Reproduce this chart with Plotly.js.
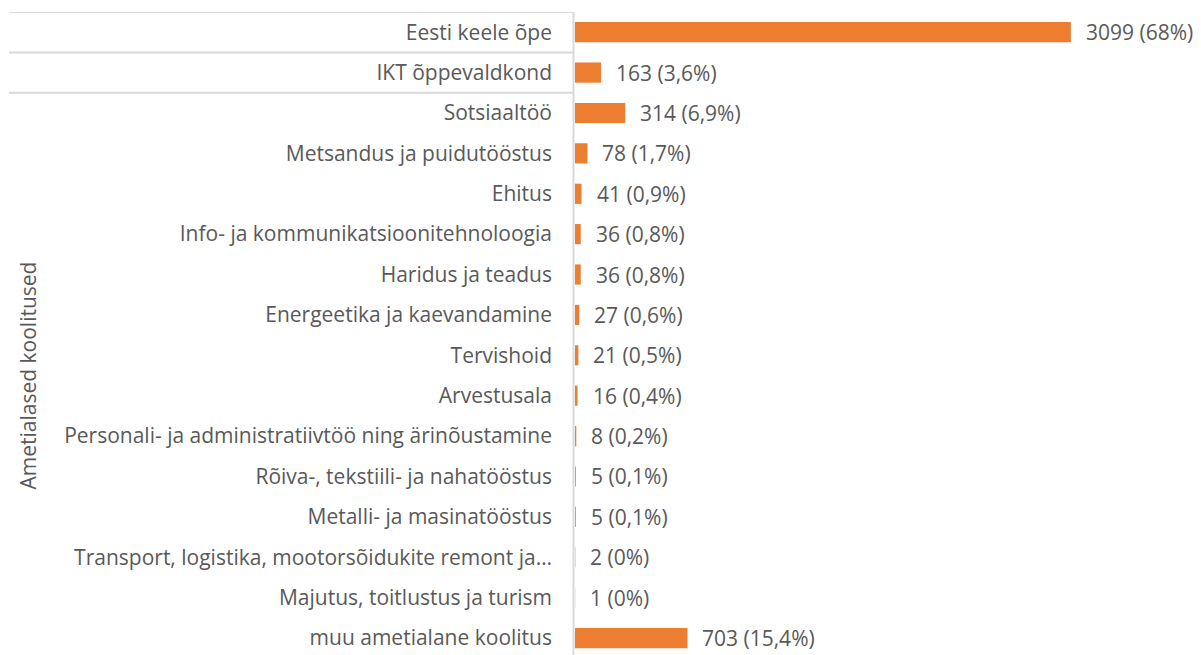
<!DOCTYPE html>
<html>
<head>
<meta charset="utf-8">
<script src="https://cdn.plot.ly/plotly-3.0.1.min.js"></script>
<style>html,body{margin:0;padding:0;background:#fff;}#chart{width:1201px;height:655px;}</style>
</head>
<body>
<div id="chart"></div>
<script>
const categories = [
  "Eesti keele õpe",
  "IKT õppevaldkond",
  "Sotsiaaltöö",
  "Metsandus ja puidutööstus",
  "Ehitus",
  "Info- ja kommunikatsioonitehnoloogia",
  "Haridus ja teadus",
  "Energeetika ja kaevandamine",
  "Tervishoid",
  "Arvestusala",
  "Personali- ja administratiivtöö ning ärinõustamine",
  "Rõiva-, tekstiili- ja nahatööstus",
  "Metalli- ja masinatööstus",
  "Transport, logistika, mootorsõidukite remont ja…",
  "Majutus, toitlustus ja turism",
  "muu ametialane koolitus"
];
const values = [3099, 163, 314, 78, 41, 36, 36, 27, 21, 16, 8, 5, 5, 2, 1, 703];
const percents = ["68%", "3,6%", "6,9%", "1,7%", "0,9%", "0,8%", "0,8%", "0,6%", "0,5%", "0,4%", "0,2%", "0,1%", "0,1%", "0%", "0%", "15,4%"];
const groupLabel = "Ametialased koolitused";

const FONT = "'Open Sans', 'Noto Sans', sans-serif";
const GREY = "#595959";
const FS = 21;

const trace = {
  type: "bar",
  orientation: "h",
  x: values,
  y: categories,
  width: 0.5,
  marker: {color: "#ED7D31", line: {color: "#ED7D31", width: 0}},
  hoverinfo: "none"
};

const annotations = categories.map((c, i) => ({
  x: values[i], y: c, xref: "x", yref: "y",
  text: values[i] + " (" + percents[i] + ")",
  showarrow: false, xanchor: "left", yanchor: "middle", xshift: 13,
  font: {family: FONT, size: FS, color: GREY}
}));
annotations.push({
  x: -0.924, xref: "paper", y: 8.5, yref: "y",
  text: groupLabel, textangle: -90, showarrow: false,
  xanchor: "center", yanchor: "middle",
  font: {family: FONT, size: FS, color: GREY}
});

const lineStyle = {color: "#d9d9d9", width: 2};
const px = p => (p - 575) / 592;
const shapes = [-0.5, 0.5, 1.5].map(yy => ({
  type: "line", xref: "paper", yref: "y",
  x0: px(9), x1: px(574), y0: yy, y1: yy, line: lineStyle
}));
shapes.push({type: "line", xref: "paper", yref: "paper", x0: px(573.5), x1: px(573.5), y0: 0, y1: 1, line: lineStyle});

const layout = {
  width: 1201, height: 655,
  margin: {l: 575, r: 34, t: 12, b: 0, pad: 0},
  paper_bgcolor: "#ffffff", plot_bgcolor: "#ffffff",
  showlegend: false,
  font: {family: FONT, color: GREY},
  xaxis: {range: [0, 3700], visible: false, fixedrange: true},
  yaxis: {
    type: "category",
    categoryorder: "array", categoryarray: categories,
    range: [15.42, -0.5],
    showgrid: false, zeroline: false, showline: false,
    ticks: "", ticklabelstandoff: 22,
    tickfont: {family: FONT, size: FS, color: GREY},
    fixedrange: true
  },
  annotations: annotations,
  shapes: shapes
};

Plotly.newPlot("chart", [trace], layout, {staticPlot: true, displayModeBar: false});
</script>
</body>
</html>
